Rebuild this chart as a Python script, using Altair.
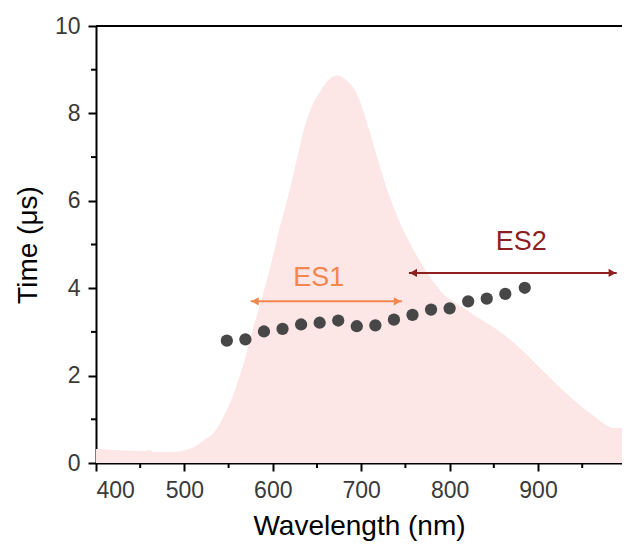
import altair as alt
import pandas as pd

# Emission spectrum (scaled to the Time axis)
spec_wl = [400, 420, 440, 455, 460, 466, 480, 492, 502, 512, 522, 535, 546, 554, 561, 568, 578, 589,
           599, 608, 618, 627, 636, 645, 652, 662, 673, 684, 695, 708, 719, 731, 746, 766, 793, 812,
           831, 860, 880, 900, 920, 940, 960, 975, 985, 995]
spec_val = [0.32, 0.30, 0.28, 0.27, 0.30, 0.25, 0.25, 0.26, 0.30, 0.38, 0.52, 0.74, 1.13, 1.5, 1.9, 2.35,
            3.1, 3.87, 4.64, 5.4, 6.16, 6.93, 7.69, 8.2, 8.45, 8.75, 8.87, 8.75, 8.45, 7.69, 6.93, 6.16,
            5.4, 4.64, 3.87, 3.6, 3.34, 2.96, 2.62, 2.22, 1.82, 1.45, 1.12, 0.9, 0.8, 0.8]

# Lifetime points
pt_wl = [548, 569, 590, 611, 632, 653, 674, 695, 716, 737, 758, 779, 800, 821, 842, 863, 885]
pt_time = [2.80, 2.83, 3.01, 3.07, 3.17, 3.21, 3.26, 3.13, 3.15, 3.28, 3.39, 3.51, 3.54, 3.70, 3.76, 3.87, 4.01]

# Arrows / labels
arrow_names = ["ES1", "ES2"]
arrow_start = [575, 754]
arrow_end = [746, 989]
arrow_y = [3.70, 4.35]
arrow_colors = ["#F2874D", "#8E1F1F"]
label_x = [652, 881]
label_y = [4.24, 5.05]

x_ticks = [400, 500, 600, 700, 800, 900]
x_minor = [450, 550, 650, 750, 850, 950]
y_ticks = [0, 2, 4, 6, 8, 10]
y_minor = [1, 3, 5, 7, 9]

W, H = 526, 437
X_MAX = 995
FONT = "Liberation Sans"

x_scale = alt.Scale(domain=[400, X_MAX], nice=False, zero=False)
y_scale = alt.Scale(domain=[0, 10], nice=False, zero=False)
x_axis = alt.Axis(values=x_ticks, title="Wavelength (nm)", grid=False)
y_axis = alt.Axis(values=y_ticks, title="Time (μs)", grid=False)

spec_df = pd.DataFrame({"wl": spec_wl, "v": spec_val})
pt_df = pd.DataFrame({"wl": pt_wl, "v": pt_time})
arr_df = pd.DataFrame({"name": arrow_names, "x1": arrow_start, "x2": arrow_end, "v": arrow_y,
                       "color": arrow_colors, "lx": label_x, "ly": label_y})
left_df = pd.DataFrame({"wl": [s + 5 for s in arrow_start], "v": arrow_y, "color": arrow_colors})
right_df = pd.DataFrame({"wl": [e - 5 for e in arrow_end], "v": arrow_y, "color": arrow_colors})

area = alt.Chart(spec_df).mark_area(color="#FDE6E6", interpolate="monotone", clip=True).encode(
    x=alt.X("wl:Q", scale=x_scale, axis=x_axis),
    y=alt.Y("v:Q", scale=y_scale, axis=y_axis),
)

top_rule = alt.Chart(pd.DataFrame({"a": [400], "b": [X_MAX], "v": [10]})).mark_rule(
    color="black", strokeWidth=2).encode(
    x=alt.X("a:Q", scale=x_scale, axis=x_axis), x2="b:Q",
    y=alt.Y("v:Q", scale=y_scale, axis=y_axis),
)

xminor = alt.Chart(pd.DataFrame({"wl": x_minor})).mark_rule(color="black", strokeWidth=2).encode(
    x=alt.X("wl:Q", scale=x_scale, axis=x_axis),
    y=alt.value(H), y2=alt.value(H + 5),
)
yminor = alt.Chart(pd.DataFrame({"v": y_minor})).mark_rule(color="black", strokeWidth=2).encode(
    y=alt.Y("v:Q", scale=y_scale, axis=y_axis),
    x=alt.value(-5), x2=alt.value(0),
)

points = alt.Chart(pt_df).mark_point(filled=True, color="#474747", size=150, opacity=1).encode(
    x=alt.X("wl:Q", scale=x_scale, axis=x_axis),
    y=alt.Y("v:Q", scale=y_scale, axis=y_axis),
)

arrows = alt.Chart(arr_df).mark_rule(strokeWidth=2).encode(
    x=alt.X("x1:Q", scale=x_scale, axis=x_axis), x2="x2:Q",
    y=alt.Y("v:Q", scale=y_scale, axis=y_axis),
    color=alt.Color("color:N", scale=None),
)
heads_l = alt.Chart(left_df).mark_point(shape="triangle-left", filled=True, size=70, opacity=1).encode(
    x=alt.X("wl:Q", scale=x_scale, axis=x_axis),
    y=alt.Y("v:Q", scale=y_scale, axis=y_axis),
    color=alt.Color("color:N", scale=None),
)
heads_r = alt.Chart(right_df).mark_point(shape="triangle-right", filled=True, size=70, opacity=1).encode(
    x=alt.X("wl:Q", scale=x_scale, axis=x_axis),
    y=alt.Y("v:Q", scale=y_scale, axis=y_axis),
    color=alt.Color("color:N", scale=None),
)
labels = alt.Chart(arr_df).mark_text(font=FONT, fontSize=27, align="center", baseline="middle").encode(
    x=alt.X("lx:Q", scale=x_scale, axis=x_axis),
    y=alt.Y("ly:Q", scale=y_scale, axis=y_axis),
    text="name:N",
    color=alt.Color("color:N", scale=None),
)

chart = alt.layer(area, top_rule, xminor, yminor, points, arrows, heads_l, heads_r, labels).properties(
    width=W, height=H,
    autosize=alt.AutoSizeParams(type="none"),
    padding={"left": 88, "top": 18, "right": 0, "bottom": 81},
).configure_view(stroke=None).configure_axis(
    domainColor="black", domainWidth=2, tickColor="black", tickWidth=2, tickSize=8,
    labelFont=FONT, labelFontSize=23, labelColor="#3a3a3a",
    titleFont=FONT, titleFontSize=28, titleColor="black", titleFontWeight="normal",
).configure_axisY(labelPadding=8, titlePadding=12).configure_axisX(labelPadding=8, titlePadding=10)

chart.save("out.html", embed_options={"renderer": "svg", "actions": False})
